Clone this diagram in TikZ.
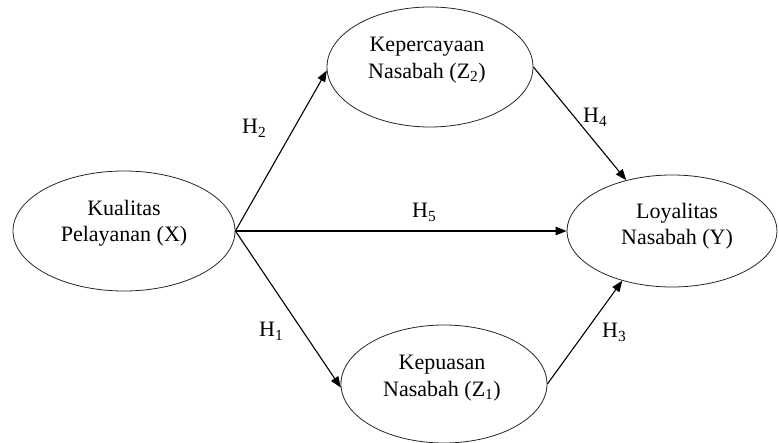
\documentclass[tikz,border=0pt]{standalone}
\usepackage{fontspec}
\setmainfont{Liberation Serif}
\usetikzlibrary{shapes.geometric,arrows.meta}
\begin{document}
\begin{tikzpicture}[x=1pt,y=1pt,
  oval/.style={ellipse,draw=black!85,line width=0.8pt,inner sep=0pt},
  txt/.style={align=center,inner sep=0pt,font=\fontsize{22}{26.5}\selectfont},
  hlab/.style={inner sep=0pt,anchor=base west,font=\fontsize{22}{26.5}\selectfont},
  arr/.style={line width=1.1pt,-{Triangle[length=11pt,width=8.5pt]}}]
\useasboundingbox (0,0) rectangle (779,443);
% ellipses
\node[oval,minimum width=222pt,minimum height=120pt] (X) at (124,212) {};
\node[oval,minimum width=206pt,minimum height=120pt] (Z2) at (430,376) {};
\node[oval,minimum width=206pt,minimum height=118pt] (Z1) at (444,59) {};
\node[oval,minimum width=210pt,minimum height=112pt] (Y) at (672,212) {};
% texts
\node[txt] (Xt) at (124,220) {Kualitas\\Pelayanan (X)};
\node[txt] (Z2t) at (427,383) {Kepercayaan\\Nasabah (Z\textsubscript{2})};
\node[txt] (Z1t) at (442,65) {Kepuasan\\Nasabah (Z\textsubscript{1})};
\node[txt] (Yt) at (677,217) {Loyalitas\\Nasabah (Y)};
% arrows
\draw[arr] (X.east) -- (Z2.182);
\draw[arr] (X.east) -- (Y.west);
\draw[arr] (X.east) -- (Z1.182);
\draw[arr] (Z2.east) -- (Y.132.7);
\draw[arr] (Z1.east) -- (Y.225);
% labels
\node[hlab] (h2) at (242,309) {H\textsubscript{2}};
\node[hlab] (h5) at (412,225) {H\textsubscript{5}};
\node[hlab] (h1) at (259,106) {H\textsubscript{1}};
\node[hlab] (h4) at (583,320) {H\textsubscript{4}};
\node[hlab] (h3) at (602,105) {H\textsubscript{3}};
\end{tikzpicture}
\end{document}
